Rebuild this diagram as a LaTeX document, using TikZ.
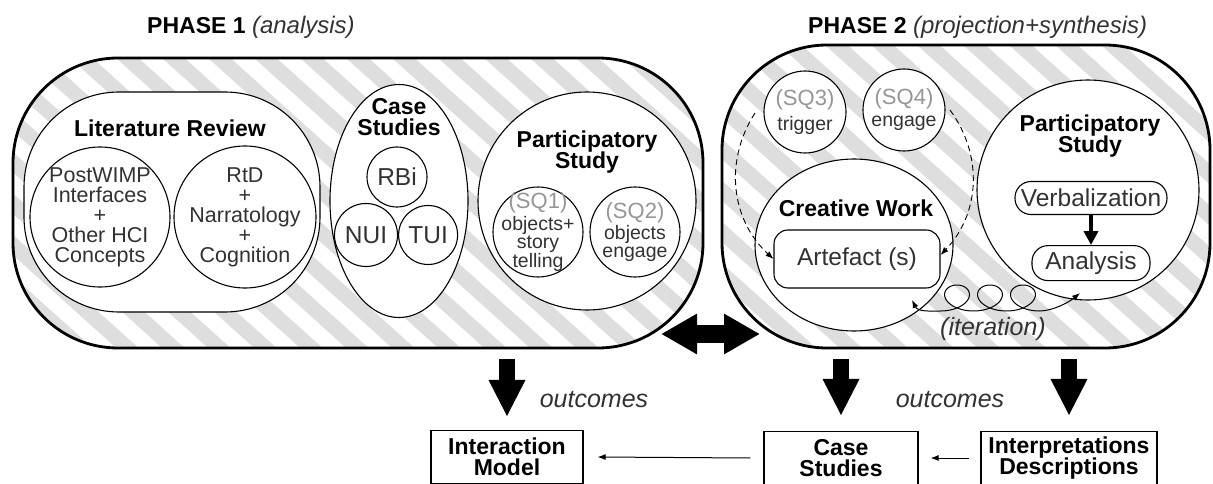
\documentclass[tikz,border=0pt]{standalone}
\usepackage{fontspec}
\setmainfont{Liberation Sans}
\usetikzlibrary{arrows.meta,positioning,calc,shapes.geometric}

\definecolor{stripegray}{RGB}{222,222,222}
\definecolor{sqgray}{RGB}{150,150,150}
\definecolor{txtgray}{RGB}{50,50,50}

\tikzset{
  stripefill/.style={path picture={
    \foreach \k in {-9,...,17}
      \draw[stripegray, line width=15pt]
        ($(path picture bounding box.north west)+(\k*46,-20)$) -- ++(400,360);
  }},
  phasebox/.style={draw, line width=2.8pt, rounded corners=105pt, stripefill},
  whitefill/.style={draw, fill=white, line width=1.1pt},
  disc/.style={whitefill, circle},
  headtxt/.style={font=\bfseries\fontsize{23}{21.5}\selectfont, align=center},
  bodytxt/.style={font=\fontsize{21.5}{20}\selectfont, text=txtgray, align=center},
  sqtxt/.style={font=\fontsize{19.5}{16}\selectfont, text=txtgray, align=center},
  bigtxt/.style={font=\fontsize{24.5}{24}\selectfont, text=txtgray},
  notetxt/.style={font=\itshape\fontsize{25}{25}\selectfont, text=txtgray},
  outbox/.style={draw, line width=1.1pt, fill=white, minimum height=53pt, headtxt},
  bigarrow/.style={line width=16pt, -{Triangle[length=37pt,width=34pt]}},
  thinarrow/.style={line width=1pt, -{Latex[length=8pt,width=6pt]}},
}

\begin{document}
\begin{tikzpicture}[x=1pt,y=-1pt,every node/.style={inner sep=0pt}]
\useasboundingbox (0,0) rectangle (1213,484);

\node[anchor=west] (ph1T) at (147,27) {\bfseries\fontsize{23}{23}\selectfont PHASE 1
  {\mdseries\itshape\color{txtgray}\fontsize{24}{24}\selectfont(analysis)}};
\node[anchor=west] (ph2T) at (808,27) {\bfseries\fontsize{23}{23}\selectfont PHASE 2
  {\mdseries\itshape\color{txtgray}\fontsize{24}{24}\selectfont(projection+synthesis)}};

\node[phasebox, minimum width=690pt, minimum height=290pt] (ph1) at (358,203) {};
\node[phasebox, minimum width=488pt, minimum height=303pt] (ph2) at (966,196.5) {};

% phase 1
\node[whitefill, rounded corners=95pt, minimum width=296pt, minimum height=220pt] (lit) at (172,202) {};
\node[headtxt] (litT) at (170,128) {Literature Review};
\node[disc, minimum size=140pt] (wimp) at (100,217) {};
\node[bodytxt] (wimpT) at (wimp) {PostWIMP\\Interfaces\\+\\Other HCI\\Concepts};
\node[disc, minimum size=142pt] (rtd) at (245,217) {};
\node[bodytxt] (rtdT) at (rtd) {RtD\\+\\Narratology\\+\\Cognition};

\node[whitefill, ellipse, minimum width=138pt, minimum height=233pt] (cases) at (399,201) {};
\node[headtxt] (casesT) at (399,117) {Case\\Studies};
\node[disc, minimum size=60pt, bigtxt] (rbi) at (397,177) {RBi};
\node[disc, minimum size=63pt, bigtxt] (nui) at (366,235) {NUI};
\node[disc, minimum size=59pt, bigtxt, right=0pt of nui] (tui) {TUI};

\node[whitefill, circle, minimum size=218pt] (part1) at (587,201) {};
\node[headtxt] (part1T) at (587,152) {Participatory\\Study};
\node[disc, minimum size=90pt] (sq1) at (538,232) {};
\node[sqtxt] (sq1T) at (sq1) {{\color{sqgray}\fontsize{22}{22}\selectfont(SQ1)}\\[3pt]objects+\\story\\telling};
\node[disc, minimum size=90pt] (sq2) at (635,232) {};
\node[sqtxt, font=\fontsize{19.5}{18}\selectfont] (sq2T) at (sq2) {{\color{sqgray}\fontsize{22}{22}\selectfont(SQ2)}\\[2pt]objects\\engage};

% phase 2
\node[disc, minimum size=82pt] (sq3) at (805,112) {};
\node[sqtxt] (sq3T) at (sq3) {{\color{sqgray}\fontsize{22}{22}\selectfont(SQ3)}\\[6pt]trigger};
\node[disc, minimum size=82pt] (sq4) at (904,110) {};
\node[sqtxt] (sq4T) at (sq4) {{\color{sqgray}\fontsize{22}{22}\selectfont(SQ4)}\\[6pt]engage};

\node[whitefill, ellipse, minimum width=198pt, minimum height=172pt] (cw) at (854,245) {};
\node[headtxt] (cwT) at (856,208) {Creative Work};
\node[whitefill, rounded corners=14pt, minimum width=166pt, minimum height=58pt, bigtxt] (art) at (857,259) {Artefact (s)};

\coordinate (dashL) at (755,113);
\coordinate (dashR) at (950,110);
\draw[line width=0.9pt, dash pattern=on 6pt off 4pt, -{Latex[length=8pt,width=6pt]}] (dashL) to[bend right=40] (art.west);
\draw[line width=0.9pt, dash pattern=on 6pt off 4pt, -{Latex[length=8pt,width=6pt]}] (dashR) to[bend left=40] ([yshift=4pt]art.east);

\node[whitefill, ellipse, minimum width=222pt, minimum height=220pt] (part2) at (1088,190) {};
\node[headtxt] (part2T) at (1090,136) {Participatory\\Study};
\node[whitefill, rounded corners=16pt, minimum width=152pt, minimum height=33pt, bigtxt] (verb) at (1091,198) {Verbalization};
\node[whitefill, rounded corners=16pt, minimum width=118pt, minimum height=35pt, bigtxt, below=30pt of verb] (analys) {Analysis};
\draw[line width=4.5pt, -{Triangle[length=14pt,width=14pt]}] (verb) -- (analys);

\coordinate (itL) at (912,300);
\coordinate (itR) at (1080,293);
\draw[line width=1pt, {Latex[length=8pt,width=6pt]}-{Latex[length=8pt,width=6pt]}]
  (itL) .. controls (918,312) and (930,311) .. (940.5,311)
  -- plot[domain=-3.1416:15.708, samples=200, variable=\t] ({957+5.25*\t-20*sin(\t r)}, {298-13*cos(\t r)})
  .. controls (1052,311) and (1068,303) .. (itR);
\node[notetxt] (iterT) at (993,329) {(iteration)};

\coordinate (dblL) at (661,334);
\coordinate (dblR) at (760,334);
\draw[line width=18pt, {Triangle[length=36pt,width=38pt]}-{Triangle[length=36pt,width=38pt]}] (dblL) -- (dblR);

% outcomes
\node[outbox, minimum width=152pt] (im) at (507,457) {Interaction\\Model};
\node[outbox, minimum width=154pt] (csb) at (841,458) {Case\\Studies};
\node[outbox, minimum width=176pt] (interp) at (1069,458) {Interpretations\\Descriptions};

\coordinate (a1) at (im.north |- ph1.south);
\coordinate (a2) at (csb.north |- ph2.south);
\coordinate (a3) at (interp.north |- ph2.south);
\draw[bigarrow] ([yshift=-10pt]a1) -- ([yshift=13pt]im.north);
\draw[bigarrow] ([yshift=-10pt]a2) -- ([yshift=15pt]csb.north);
\draw[bigarrow] ([yshift=-10pt]a3) -- ([yshift=15pt]interp.north);
\node[notetxt] (out1) at (594,400) {outcomes};
\node[notetxt] (out2) at (950,400) {outcomes};

\draw[thinarrow] ([xshift=-13pt]csb.west) -- ([xshift=14pt]im.east);
\draw[thinarrow] ([xshift=-11pt]interp.west) -- ([xshift=12pt]csb.east);
\end{tikzpicture}
\end{document}
